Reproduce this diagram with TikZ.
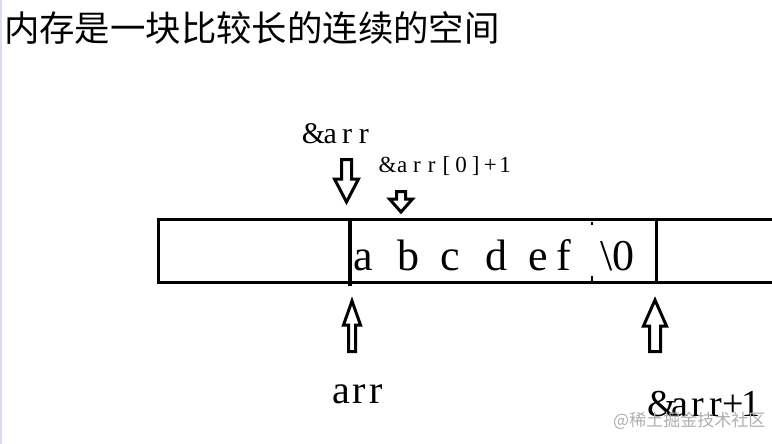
\documentclass[tikz,border=0pt]{standalone}
\usepackage{fontspec}
\setmainfont{Liberation Serif}
\newfontfamily\cjk{Noto Sans CJK SC}
\usepackage{tikz}
\definecolor{edgeblue}{RGB}{220,220,238}
\definecolor{markgray}{RGB}{175,175,175}
\newcommand{\cells}[2]{\foreach \ch in {#2}{\makebox[#1]{\ch}}}
\newcommand{\hollowarrow}[6]{% x, shaft, head, tail, neck, tip
  \draw[arrowline] ({#1-#2},#4) -- ({#1-#2},#5) -- ({#1-#3},#5) -- (#1,#6)
    -- ({#1+#3},#5) -- ({#1+#2},#5) -- ({#1+#2},#4) -- cycle;}

\begin{document}
\begin{tikzpicture}[x=1pt,y=-1pt,
  boxline/.style={line width=3.2pt},
  arrowline/.style={line width=3pt},
  label/.style={inner sep=0pt,anchor=base west}]
  \useasboundingbox (0,0) rectangle (772,444);
  \fill[edgeblue] (0,0) rectangle (1.5,444);

  \node[anchor=west,inner sep=0pt,font=\cjk\fontsize{35.4}{36}\selectfont] (title) at (4,28) {内存是一块比较长的连续的空间};

  % memory strip
  \draw[boxline] (772,219.5) -- (158.5,219.5) -- (158.5,282.5) -- (772,282.5);
  \draw[boxline] (350,219.5) -- (350,285.5);
  \draw[boxline] (656.5,219.5) -- (656.5,282.5);
  \draw[line width=1.5pt] (592,222) -- (592,225);
  \draw[line width=2.5pt] (592,276) -- (592,282);
  \foreach \x/\ch [count=\i] in {353/a,397/b,440/c,485/d,528/e,556/f,600/\textbackslash0}
    \node[label,font=\fontsize{44}{44}\selectfont] (ch\i) at (\x,270) {\ch};

  % pointers
  \hollowarrow{346.5}{5}{12}{159.5}{179}{202}
  \hollowarrow{401}{4.5}{11.5}{191.5}{199}{212}
  \hollowarrow{352}{3.5}{8.5}{351.5}{325}{301}
  \hollowarrow{655}{5.5}{11.5}{351.5}{326}{300}

  \node[label,font=\fontsize{30}{30}\selectfont] (addr) at (305,143) {\cells{16.75pt}{\&,a,r,r}};
  \node[label,font=\fontsize{23}{23}\selectfont] (addr0) at (380,172) {\cells{14.7pt}{\&,a,r,r,[,0,],+,1}};
  \node[label,font=\fontsize{40}{40}\selectfont] (arr) at (332,403) {\cells{17.7pt}{a,r,r}};
  \node[label,font=\fontsize{38}{38}\selectfont] (addr1) at (653,416) {\cells{17.8pt}{\&,a,r,r,+,1}};

  \node[anchor=west,inner sep=0pt,text=markgray,font=\cjk\fontsize{17}{17}\selectfont] (mark) at (613,421) {@稀土掘金技术社区};
\end{tikzpicture}
\end{document}
